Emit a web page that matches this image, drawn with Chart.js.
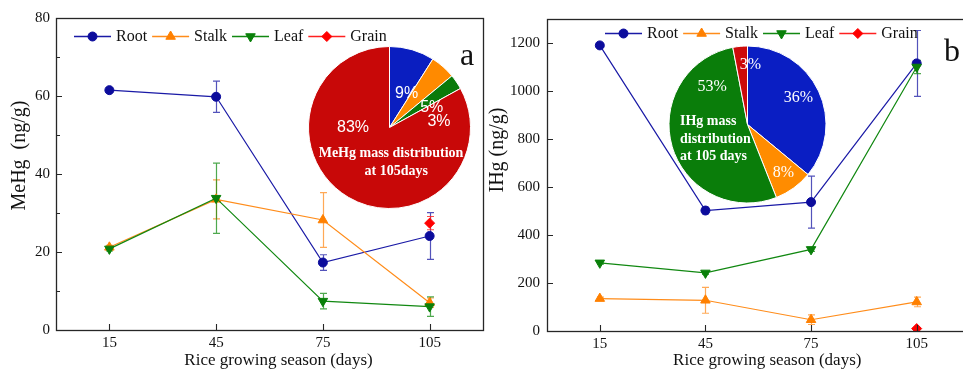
<!DOCTYPE html>
<html><head><meta charset="utf-8">
<script src="https://cdn.jsdelivr.net/npm/chart.js@4"></script>
<style>
html,body{margin:0;padding:0;background:#fff;overflow:hidden;width:963px;height:371px;position:relative}
canvas{position:absolute;display:block}
</style></head><body>
<canvas id="cL" width="490" height="371" style="left:0;top:0"></canvas>
<canvas id="cR" width="490" height="371" style="left:486px;top:0"></canvas>
<canvas id="pL" width="181" height="181" style="left:299px;top:37px"></canvas>
<canvas id="pR" width="181" height="181" style="left:657px;top:34px"></canvas>
<script>
// ---------- data ----------
const days = [15, 45, 75, 105];
const dayTickLabels = ['15', '45', '75', '105'];
const mehgTicks = [0, 20, 40, 60, 80];
const ihgTicks = [0, 200, 400, 600, 800, 1000, 1200];
const organs = ['Root', 'Stalk', 'Leaf', 'Grain'];

const mehgRoot = [61.5, 59.8, 17.3, 24.1];
const mehgRootErr = [0.5, 4.0, 2.0, 6.0];
const mehgStalk = [21.2, 33.5, 28.2, 7.0];
const mehgStalkErr = [0.5, 5.0, 7.0, 1.2];
const mehgLeaf = [20.8, 33.8, 7.4, 6.0];
const mehgLeafErr = [0.5, 9.0, 2.0, 2.5];
const mehgGrain = [null, null, null, 27.4];
const mehgGrainErr = [null, null, null, 1.7];

const ihgRoot = [1190, 502, 537, 1115];
const ihgRootErr = [6, 14, 108, 137];
const ihgStalk = [135, 128, 47, 121];
const ihgStalkErr = [6, 54, 20, 20];
const ihgLeaf = [284, 242, 340, 1100];
const ihgLeafErr = [5, 6, 8, 28];
const ihgGrain = [null, null, null, 10];
const ihgGrainErr = [null, null, null, 2];

const mehgShare = [9, 5, 3, 83];
const ihgShare = [36, 8, 53, 3];

// ---------- styles ----------
const STY = [
  {line:'#1a1aa6', pt:'#0c0c9c', err:'rgba(40,40,170,0.8)', style:'circle', r:4.5, rot:0},
  {line:'#ff8c1a', pt:'#ff8000', err:'rgba(255,140,30,0.75)', style:'triangle', r:5.5, rot:0},
  {line:'#118811', pt:'#0a800a', err:'rgba(20,140,20,0.75)', style:'triangle', r:5.5, rot:180},
  {line:'#ff2020', pt:'#ff0000', err:'rgba(255,30,30,0.8)', style:'rectRot', r:5, rot:0}
];
const SERIF = '"Liberation Serif", "Times New Roman", serif';

function pts(vals, errs) {
  const out = [];
  days.forEach((d, i) => { if (vals[i] != null) out.push({x: d, y: vals[i], e: errs[i]}); });
  return out;
}
function ds(i, vals, errs) {
  const s = STY[i];
  return {label: organs[i], data: pts(vals, errs), borderColor: s.line, backgroundColor: s.pt,
    pointBackgroundColor: s.pt, pointBorderColor: s.pt, pointStyle: s.style, pointRadius: s.r,
    pointRotation: s.rot, pointBorderWidth: 1, borderWidth: 1.2, errColor: s.err, order: 4 - i,
    tension: 0, showLine: true};
}

const errorBars = {
  id: 'errorBars',
  beforeDatasetsDraw(chart) {
    const ctx = chart.ctx, xs = chart.scales.x, ys = chart.scales.y;
    chart.data.datasets.forEach(d => {
      ctx.save(); ctx.strokeStyle = d.errColor; ctx.lineWidth = 1.2;
      d.data.forEach(p => {
        if (p.e == null) return;
        const x = Math.round(xs.getPixelForValue(p.x)) + 0.5;
        const y1 = ys.getPixelForValue(p.y + p.e), y2 = ys.getPixelForValue(p.y - p.e);
        ctx.beginPath();
        ctx.moveTo(x, y1); ctx.lineTo(x, y2);
        ctx.moveTo(x - 3.5, y1); ctx.lineTo(x + 3.5, y1);
        ctx.moveTo(x - 3.5, y2); ctx.lineTo(x + 3.5, y2);
        ctx.stroke();
      });
      ctx.restore();
    });
  }
};

function makeDecor(g) {
  return {
    id: 'decor' + g.letter,
    afterDraw(chart) {
      const ctx = chart.ctx, a = chart.chartArea, xs = chart.scales.x, ys = chart.scales.y;
      ctx.save();
      ctx.strokeStyle = '#262626'; ctx.lineWidth = 1.3;
      ctx.strokeRect(Math.round(a.left) + 0.5, Math.round(a.top) + 0.5, Math.round(a.right - a.left), Math.round(a.bottom - a.top));
      ctx.lineWidth = 1.1;
      ctx.beginPath();
      const yt = ys.ticks.map(t => t.value);
      yt.forEach(v => { const y = Math.round(ys.getPixelForValue(v)) + 0.5; ctx.moveTo(a.left, y); ctx.lineTo(a.left + 6, y); });
      if (g.minorY) {
        for (let i = 0; i < yt.length - 1; i++) {
          const y = Math.round(ys.getPixelForValue((yt[i] + yt[i + 1]) / 2)) + 0.5;
          ctx.moveTo(a.left, y); ctx.lineTo(a.left + 4, y);
        }
      }
      xs.ticks.forEach(t => { const x = Math.round(xs.getPixelForValue(t.value)) + 0.5; ctx.moveTo(x, a.bottom); ctx.lineTo(x, a.bottom - 6); });
      ctx.stroke();
      // axis titles
      ctx.fillStyle = '#111'; ctx.textAlign = 'center'; ctx.textBaseline = 'middle';
      ctx.font = '17px ' + SERIF;
      ctx.fillText(g.xTitle, (a.left + a.right) / 2 + g.xTitleDx, g.xTitleY);
      ctx.save();
      ctx.translate(g.yTitleX, (a.top + a.bottom) / 2 + g.yTitleDy);
      ctx.rotate(-Math.PI / 2);
      ctx.font = '20px ' + SERIF;
      ctx.fillText(g.yTitle, 0, 0);
      ctx.restore();
      // panel letter
      ctx.font = '32px ' + SERIF;
      ctx.fillText(g.letter, g.letterX, g.letterY);
      // legend
      let x = g.legX;
      ctx.font = '16px ' + SERIF; ctx.textAlign = 'left';
      chart.data.datasets.forEach(d => {
        ctx.strokeStyle = d.borderColor; ctx.lineWidth = 1.3;
        ctx.beginPath(); ctx.moveTo(x, g.legY + 0.5); ctx.lineTo(x + 37, g.legY + 0.5); ctx.stroke();
        ctx.fillStyle = d.pointBackgroundColor; ctx.strokeStyle = d.pointBorderColor; ctx.lineWidth = 1;
        Chart.helpers.drawPoint(ctx, {pointStyle: d.pointStyle, rotation: d.pointRotation, radius: d.pointRadius, borderWidth: 1}, x + 18.5, g.legY + 0.5);
        ctx.fillStyle = '#111';
        ctx.fillText(d.label, x + 42, g.legY + 1);
        x += 42 + ctx.measureText(d.label).width + 5;
      });
      ctx.restore();
    }
  };
}

function lineChart(id, sets, yTicks, yMax, g) {
  return new Chart(document.getElementById(id), {
    type: 'line',
    data: {datasets: sets},
    options: {
      responsive: false, animation: false, events: [],
      layout: {padding: {left: 0, right: g.padR, top: g.padT, bottom: 0}},
      plugins: {legend: {display: false}, tooltip: {enabled: false}},
      scales: {
        x: {type: 'linear', min: 0, max: 120,
          grid: {display: false, drawTicks: false}, border: {display: false},
          afterBuildTicks: s => { s.ticks = days.map(v => ({value: v})); },
          afterFit: s => { s.height = g.xH; },
          ticks: {padding: 4, color: '#111', font: {family: SERIF, size: 15}, maxRotation: 0, autoSkip: false,
            callback: (v, i) => dayTickLabels[i]}},
        y: {type: 'linear', min: 0, max: yMax,
          grid: {display: false, drawTicks: false}, border: {display: false},
          afterBuildTicks: s => { s.ticks = yTicks.map(v => ({value: v})); },
          afterFit: s => { s.width = g.yW; },
          ticks: {padding: g.yPad, color: '#111', font: {family: SERIF, size: 15}, callback: v => String(v)}}
      }
    },
    plugins: [errorBars, makeDecor(g)]
  });
}

lineChart('cL', [
  ds(0, mehgRoot, mehgRootErr), ds(1, mehgStalk, mehgStalkErr),
  ds(2, mehgLeaf, mehgLeafErr), ds(3, mehgGrain, mehgGrainErr)
], mehgTicks, 80, {
  padR: 7, padT: 18, xH: 41, yW: 56, yPad: 6, minorY: true,
  xTitle: 'Rice growing season (days)', xTitleDx: 9, xTitleY: 361,
  yTitle: 'MeHg  (ng/g)', yTitleX: 20, yTitleDy: -18.5,
  letter: 'a', letterX: 467, letterY: 57, legX: 74, legY: 36
});

lineChart('cR', [
  ds(0, ihgRoot, ihgRootErr), ds(1, ihgStalk, ihgStalkErr),
  ds(2, ihgLeaf, ihgLeafErr), ds(3, ihgGrain, ihgGrainErr)
], ihgTicks, 1300, {
  padR: 3, padT: 19, xH: 40, yW: 61, yPad: 7, minorY: false,
  xTitle: 'Rice growing season (days)', xTitleDx: 9, xTitleY: 361,
  yTitle: 'IHg (ng/g)', yTitleX: 11.5, yTitleDy: -25,
  letter: 'b', letterX: 466, letterY: 53, legX: 119, legY: 33
});

function makePieText(l) {
  return {
    id: 'pieText',
    afterDatasetsDraw(chart) {
      const ctx = chart.ctx, meta = chart.getDatasetMeta(0), vals = chart.data.datasets[0].data;
      ctx.save();
      ctx.fillStyle = '#fff'; ctx.textAlign = 'center'; ctx.textBaseline = 'middle';
      ctx.font = l.font;
      meta.data.forEach((arc, i) => {
        const p = l.pos[i], r = arc.outerRadius * p[1], rad = p[0] * Math.PI / 180;
        ctx.fillText(vals[i] + '%', arc.x + Math.sin(rad) * r, arc.y - Math.cos(rad) * r);
      });
      ctx.font = l.descFont;
      const c = meta.data[0];
      l.desc.forEach(d => { ctx.textAlign = d.align; ctx.fillText(d.text, c.x + d.dx, c.y + d.dy); });
      ctx.restore();
    }
  };
}

function pieChart(id, vals, colors, l) {
  return new Chart(document.getElementById(id), {
    type: 'pie',
    data: {labels: organs, datasets: [{data: vals, backgroundColor: colors, borderColor: '#ffffff', borderWidth: 1}]},
    options: {responsive: false, animation: false, events: [], radius: l.radius, layout: {padding: 0},
      plugins: {legend: {display: false}, tooltip: {enabled: false}}},
    plugins: [makePieText(l)]
  });
}

pieChart('pL', mehgShare, ['#0a1ec0', '#ff8a00', '#0a7a0a', '#c80808'], {
  radius: 81, font: '16px "Liberation Sans", Arial, sans-serif',
  pos: [[27, 0.467], [64.6, 0.577], [82.7, 0.616], [270, 0.45]],
  descFont: 'bold 14px ' + SERIF,
  desc: [{text: 'MeHg mass distribution', dx: 1.5, dy: 25.8, align: 'center'},
         {text: 'at 105days', dx: 6.8, dy: 44.2, align: 'center'}]
});

pieChart('pR', ihgShare, ['#0a1ec3', '#ff8c00', '#0a7d0a', '#cc0a0a'], {
  radius: 78.5, font: '16px ' + SERIF,
  pos: [[62.6, 0.731], [143.3, 0.767], [317.1, 0.661], [2.9, 0.762]],
  descFont: 'bold 14px ' + SERIF,
  desc: [{text: 'IHg mass', dx: -67.5, dy: -2.8, align: 'left'},
         {text: 'distribution', dx: -67.5, dy: 14.5, align: 'left'},
         {text: 'at 105 days', dx: -67.5, dy: 32.2, align: 'left'}]
});
</script>
</body></html>
